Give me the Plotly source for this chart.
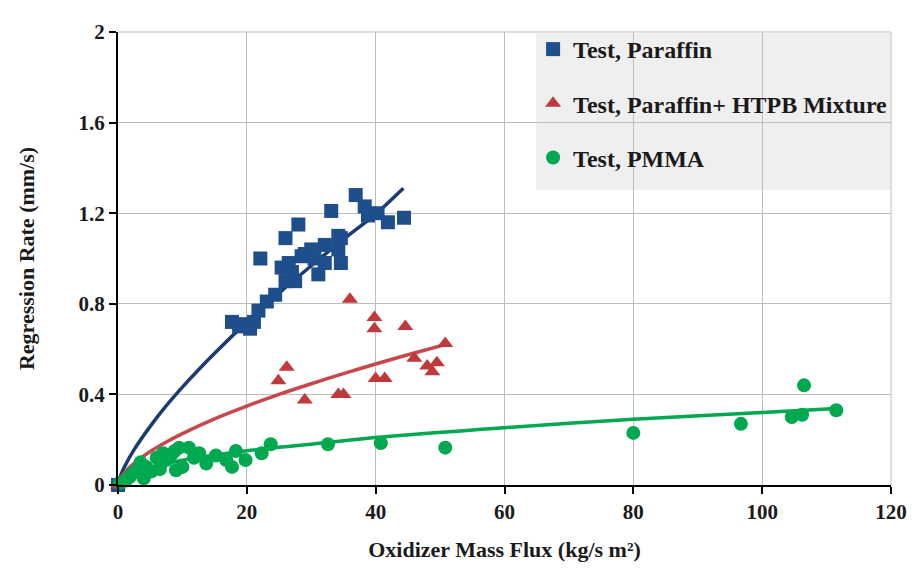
import plotly.graph_objects as go

# Test data: Paraffin
paraffin_x = [0, 17.7, 19.8, 21.1, 21.8, 23.1, 24.4, 22.1, 26.0, 28.0, 33.1, 36.9, 38.3, 38.8, 40.3, 41.9, 44.4,
              26.5, 27.0, 28.5, 30.0, 31.1, 32.1, 34.2, 34.6, 34.2, 26.0, 27.5, 32.1, 34.6, 25.4, 29.0, 30.5, 18.8, 20.5]
paraffin_y = [0, 0.72, 0.71, 0.72, 0.77, 0.81, 0.84, 1.00, 1.09, 1.15, 1.21, 1.28, 1.23, 1.19, 1.20, 1.16, 1.18,
              0.98, 0.94, 1.01, 1.04, 0.93, 1.06, 1.10, 0.98, 1.04, 0.90, 0.90, 0.98, 1.09, 0.96, 1.02, 1.00, 0.70, 0.69]

# Test data: Paraffin + HTPB mixture
mix_x = [0, 36.0, 39.8, 39.8, 44.6, 50.8, 46.0, 48.0, 49.5, 48.8, 26.2, 24.9, 29.0, 34.2, 35.0, 40.0, 41.4]
mix_y = [0, 0.82, 0.74, 0.69, 0.70, 0.625, 0.56, 0.525, 0.54, 0.50, 0.52, 0.46, 0.375, 0.40, 0.40, 0.47, 0.47]

# Test data: PMMA
pmma_x = [0.3, 1.8, 2.9, 4.4, 6.0, 7.5, 9.0, 9.5, 10.0, 11.0, 12.6, 13.7, 15.2, 16.8, 17.7, 18.3, 19.8, 22.3, 23.7,
          32.6, 40.8, 50.8, 80.0, 96.7, 104.6, 106.2, 106.5, 111.5, 3.5, 5.2, 7.0, 8.2, 11.8, 1.2, 2.2, 4.0, 6.5, 8.8]
pmma_y = [0.01, 0.035, 0.065, 0.08, 0.12, 0.11, 0.065, 0.165, 0.08, 0.165, 0.14, 0.095, 0.13, 0.11, 0.08, 0.15, 0.11, 0.14, 0.18,
          0.18, 0.185, 0.165, 0.23, 0.27, 0.30, 0.31, 0.44, 0.33, 0.10, 0.06, 0.14, 0.13, 0.12, 0.02, 0.05, 0.03, 0.07, 0.15]

# Trend curves
paraffin_fit_x = [0, 0.5, 1, 2.5, 5, 7.5, 10, 12.5, 15, 20, 25, 30, 35, 40, 44.3]
paraffin_fit_y = [0, 0.048, 0.08, 0.156, 0.259, 0.35, 0.432, 0.509, 0.582, 0.719, 0.847, 0.968, 1.085, 1.196, 1.31]
mix_fit_x = [0, 0.5, 1, 2.5, 5, 7.5, 10, 15, 20, 25, 30, 35, 40, 45, 50.8]
mix_fit_y = [0, 0.036, 0.055, 0.096, 0.148, 0.19, 0.227, 0.292, 0.348, 0.40, 0.447, 0.492, 0.534, 0.575, 0.62]
pmma_fit_x = [0, 0.5, 1, 2.5, 5, 10, 20, 30, 40, 60, 80, 100, 111.5]
pmma_fit_y = [0, 0.027, 0.037, 0.057, 0.079, 0.109, 0.151, 0.18, 0.21, 0.253, 0.29, 0.32, 0.338]

x_ticks = [0, 20, 40, 60, 80, 100, 120]
y_ticks = [0, 0.4, 0.8, 1.2, 1.6, 2]
y_tick_text = ["0", "0.4", "0.8", "1.2", "1.6", "2"]

BLUE = "#1f4e8c"
BLUE_LINE = "#1c3a74"
RED = "#c0393b"
RED_LINE = "#c8474c"
GREEN = "#00a84f"
SERIF = "Liberation Serif"
GRID = "#bdbdbd"

fig = go.Figure()

fig.add_trace(go.Scatter(x=paraffin_fit_x, y=paraffin_fit_y, mode="lines",
                         line=dict(color=BLUE_LINE, width=3.5, shape="spline", smoothing=0.8),
                         showlegend=False, hoverinfo="skip"))
fig.add_trace(go.Scatter(x=mix_fit_x, y=mix_fit_y, mode="lines",
                         line=dict(color=RED_LINE, width=3.5, shape="spline", smoothing=0.8),
                         showlegend=False, hoverinfo="skip"))
fig.add_trace(go.Scatter(x=pmma_fit_x, y=pmma_fit_y, mode="lines",
                         line=dict(color=GREEN, width=3.5, shape="spline", smoothing=0.8),
                         showlegend=False, hoverinfo="skip"))

fig.add_trace(go.Scatter(x=paraffin_x, y=paraffin_y, mode="markers", name="Test, Paraffin", legendgroup="a",
                         marker=dict(symbol="square", size=14, color=BLUE), cliponaxis=False))
fig.add_trace(go.Scatter(x=mix_x, y=mix_y, mode="markers", name="Test, Paraffin+ HTPB Mixture", legendgroup="b",
                         marker=dict(symbol="triangle-up", size=14, color=RED), cliponaxis=False))
fig.add_trace(go.Scatter(x=pmma_x, y=pmma_y, mode="markers", name="Test, PMMA", legendgroup="c",
                         marker=dict(symbol="circle", size=14, color=GREEN), cliponaxis=False))

fig.update_layout(
    width=911, height=563,
    margin=dict(l=110, r=21, t=13, b=86),
    paper_bgcolor="white", plot_bgcolor="white",
    font=dict(family=SERIF, size=20, color="#1a1a1a"),
    shapes=[
        dict(type="rect", xref="paper", yref="paper", x0=0.541, x1=1.0, y0=0.651, y1=0.997,
             fillcolor="#efefef", line=dict(width=0), layer="below"),
        dict(type="line", xref="paper", yref="paper", x0=1, x1=1, y0=0, y1=1, line=dict(color=GRID, width=1), layer="below"),
        dict(type="line", xref="paper", yref="paper", x0=0, x1=1, y0=1, y1=1, line=dict(color=GRID, width=1), layer="below"),
    ],
    legend=dict(x=0.537, y=1.011, xanchor="left", yanchor="top", bgcolor="rgba(0,0,0,0)",
                font=dict(family=SERIF, size=24, color="#1a1a1a", weight="bold"),
                tracegroupgap=20, itemwidth=30),
    xaxis=dict(range=[0, 120], tickvals=x_ticks, showgrid=True, gridcolor=GRID, gridwidth=1,
               showline=True, linecolor="black", linewidth=2, ticks="outside", ticklen=7, tickwidth=2,
               tickcolor="black", zeroline=False,
               tickfont=dict(family=SERIF, size=21, weight="bold"),
               title=dict(text="Oxidizer Mass Flux (kg/s m²)", font=dict(family=SERIF, size=22, weight="bold"), standoff=18)),
    yaxis=dict(range=[0, 2], tickvals=y_ticks, ticktext=y_tick_text, showgrid=True, gridcolor=GRID, gridwidth=1,
               showline=True, linecolor="black", linewidth=2, ticks="outside", ticklen=7, tickwidth=2,
               tickcolor="black", zeroline=False,
               tickfont=dict(family=SERIF, size=21, weight="bold"),
               title=dict(text="Regression Rate (mm/s)", font=dict(family=SERIF, size=22, weight="bold"), standoff=38)),
)

fig.write_html("out.html")
